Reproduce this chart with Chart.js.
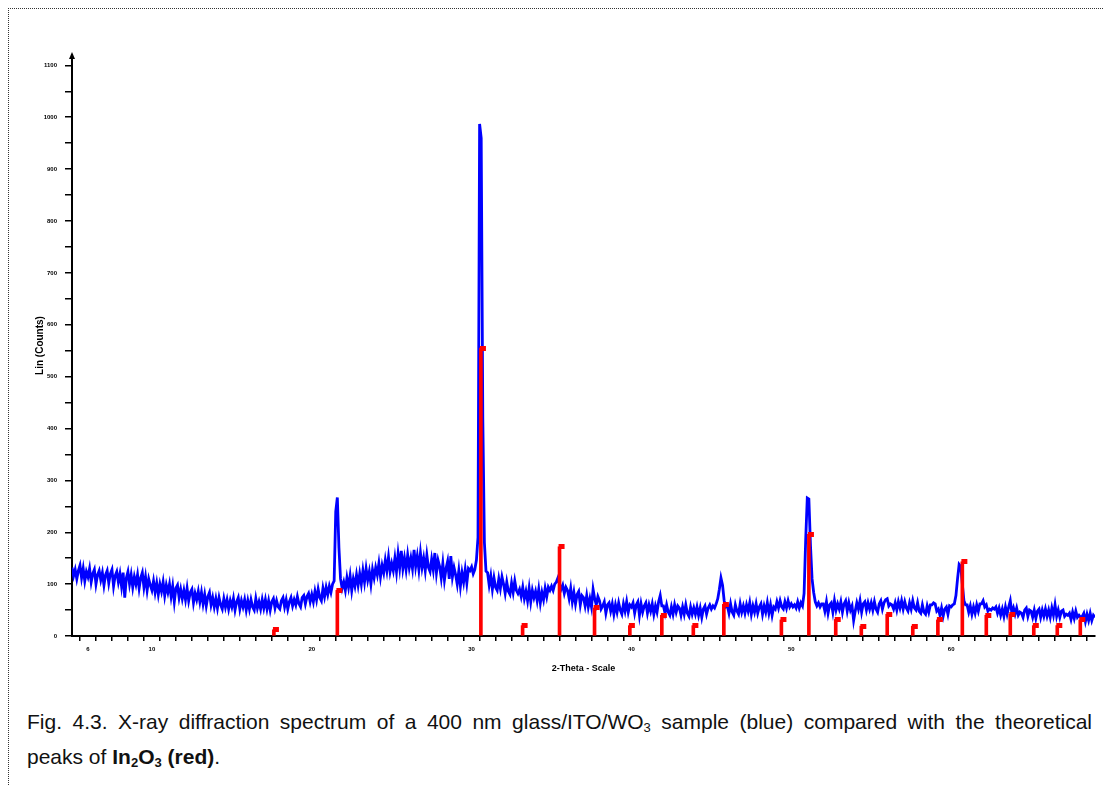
<!DOCTYPE html>
<html>
<head>
<meta charset="utf-8">
<script src="https://cdn.jsdelivr.net/npm/chart.js@4.4.1/dist/chart.umd.min.js"></script>
<style>
  html, body { margin: 0; padding: 0; background: #fff; }
  body { width: 1103px; height: 785px; position: relative; overflow: hidden; }
  #frame { position: absolute; left: 8px; top: 8px; right: 0; bottom: 0;
           border-top: 1px dotted #333; border-left: 1px dotted #333; }
  #xrd { position: absolute; left: 0; top: 0; }
  #caption { position: absolute; left: 27px; top: 704px; width: 1065px;
             font-family: "Liberation Sans Narrow", "Arial Narrow", "Liberation Sans", sans-serif;
             font-size: 21px; line-height: 35px; color: #111; }
  #caption .l1 { text-align: justify; text-align-last: justify; }
  #caption sub { font-size: 0.62em; vertical-align: -0.25em; line-height: 0; }
</style>
</head>
<body>
<div id="frame"></div>
<canvas id="xrd" width="1103" height="690"></canvas>
<div id="caption">
  <div class="l1">Fig. 4.3. X-ray diffraction spectrum of a 400 nm glass/ITO/WO<sub>3</sub> sample (blue) compared with the theoretical</div>
  <div>peaks of <b>In<sub>2</sub>O<sub>3</sub> (red)</b>.</div>
</div>
<script>
// measured scan (blue), 2-theta from 5 to 69 deg, 0.1 deg step
const scanStart = 5;
const scanStep = 0.1;
const scanCounts = [
  132,116,128,110,126,136,112,130,106,124,
  114,130,104,120,128,100,118,126,108,122,
  98,118,126,102,120,128,96,116,124,104,
  120,96,122,74,112,124,100,118,94,114,
  100,118,92,112,122,94,114,88,110,98,
  88,106,84,102,80,100,86,104,78,98,
  84,100,76,96,66,92,98,74,90,72,
  88,70,92,68,84,90,64,82,70,86,
  66,84,62,80,58,76,84,60,74,56,
  72,54,74,60,52,72,56,70,52,68,
  56,72,50,66,74,52,68,56,70,50,
  68,52,70,56,50,72,54,66,52,70,
  54,70,52,68,50,66,72,54,68,56,
  52,68,74,56,70,52,66,74,58,70,
  60,76,62,56,74,78,62,76,82,66,
  80,66,86,70,90,74,68,92,76,94,
  80,96,84,100,106,240,267,170,110,92,
  104,88,112,94,116,88,110,96,118,98,
  120,100,126,104,130,108,124,100,128,112,
  132,118,140,114,136,122,146,126,152,124,
  140,126,150,124,158,132,164,130,150,128,
  156,132,150,130,166,134,154,128,160,132,
  150,126,156,132,124,148,128,160,122,146,
  134,112,140,108,130,144,110,154,114,132,
  118,100,126,96,122,104,128,102,130,126,
  133,120,128,146,190,987,960,420,180,125,
  122,98,116,90,112,94,88,110,92,114,
  100,82,104,86,80,102,84,106,88,82,
  90,76,94,72,86,68,92,66,88,74,
  86,68,90,64,84,70,92,76,94,88,
  96,88,100,104,112,100,90,98,82,94,
  88,72,92,66,84,62,80,86,60,78,
  74,58,78,56,72,56,90,72,60,76,
  68,52,58,66,44,60,64,48,62,42,
  60,46,64,50,42,62,48,66,46,60,
  56,64,44,60,66,40,62,46,58,64,
  44,60,48,62,42,58,46,66,78,58,
  58,44,60,46,40,56,42,60,46,58,
  54,40,56,42,60,44,38,56,42,54,
  42,56,40,54,36,52,58,42,54,60,
  52,58,54,62,72,90,112,98,68,56,
  58,44,62,46,40,60,48,42,62,46,
  58,44,60,48,64,42,58,46,62,44,
  56,62,42,58,46,64,44,60,40,56,
  52,66,54,68,56,52,66,54,68,56,
  62,56,60,54,66,54,64,58,82,185,
  266,264,175,110,84,66,58,64,56,62,
  62,48,66,44,60,64,46,68,50,62,
  52,66,46,62,68,48,64,50,58,30,
  48,64,52,68,46,62,66,50,64,52,
  64,50,66,52,46,62,68,52,64,70,
  72,58,62,60,52,64,50,66,54,68,
  52,66,54,48,64,52,68,54,50,64,
  48,44,60,46,42,58,46,60,60,64,
  62,48,52,40,54,38,52,56,42,58,
  56,60,62,78,110,138,134,100,68,60,
  60,46,58,42,56,44,60,48,62,62,
  68,56,60,48,52,50,54,52,56,44,
  54,40,52,38,56,42,56,68,44,54,
  42,54,40,46,44,36,50,54,38,50,
  48,36,50,34,48,52,36,50,38,52,
  38,50,36,54,40,60,38,50,36,48,
  50,38,42,40,44,32,46,34,48,36,
  40,36,38,44,28,42,30,44,30,40,
  36
];

// In2O3 reference pattern (red)
const refTheta = [17.63, 21.6, 30.58, 33.19, 35.5, 37.69, 39.9, 41.9, 43.87, 45.78, 49.38,
  51.1, 52.78, 54.38, 56.0, 57.6, 59.17, 60.7, 62.2, 63.7, 65.17, 66.64, 68.08];
const refIntensity = [12, 88, 555, 20, 172, 54, 20, 40, 20, 61, 31,
  196, 32, 19, 42, 19, 31, 143, 40, 42, 20, 20, 31];

const xTickLabels = [6, 10, 20, 30, 40, 50, 60];
const yLabelStep = 100;

const scanPoints = scanCounts.map((c, i) => ({ x: +(scanStart + i * scanStep).toFixed(2), y: c }));
const refPoints = refTheta.map((t, i) => ({ x: t, y: refIntensity[i] }));

// little flag drawn at the top of every reference line, sitting to its right
const flag = document.createElement('canvas');
flag.width = 12;
flag.height = 5;
const fctx = flag.getContext('2d');
fctx.fillStyle = '#ff0000';
fctx.fillRect(5, 0, 6, 5);

const axisArrow = {
  id: 'axisArrow',
  afterDraw(chart) {
    const { ctx, chartArea } = chart;
    ctx.save();
    ctx.fillStyle = '#000';
    ctx.beginPath();
    ctx.moveTo(chartArea.left - 3, chartArea.top + 4);
    ctx.lineTo(chartArea.left + 3, chartArea.top + 4);
    ctx.lineTo(chartArea.left, chartArea.top - 3);
    ctx.closePath();
    ctx.fill();
    ctx.restore();
  },
};

const tickFont = { family: 'Liberation Sans', size: 6, weight: 'bold' };

new Chart(document.getElementById('xrd'), {
  type: 'line',
  data: {
    datasets: [
      {
        type: 'bar',
        data: refPoints,
        backgroundColor: '#ff0000',
        borderWidth: 0,
        barThickness: 3,
        order: 1,
      },
      {
        type: 'line',
        data: refPoints,
        showLine: false,
        pointStyle: flag,
        pointRadius: 3,
        order: 0,
      },
      {
        type: 'line',
        data: scanPoints,
        borderColor: '#0000ff',
        borderWidth: 2.8,
        pointRadius: 0,
        tension: 0,
        order: 2,
      },
    ],
  },
  options: {
    responsive: false,
    animation: false,
    devicePixelRatio: 1,
    layout: { padding: { top: 55, right: 8, left: 0, bottom: 0 } },
    plugins: { legend: { display: false }, tooltip: { enabled: false } },
    scales: {
      x: {
        type: 'linear',
        min: 5,
        max: 69,
        offset: false,
        afterFit: s => { s.height = 54; },
        afterBuildTicks: s => { s.ticks = s.ticks.filter(t => Number.isInteger(t.value)); },
        ticks: {
          stepSize: 1,
          autoSkip: false,
          maxRotation: 0,
          padding: 5,
          color: '#000',
          font: tickFont,
          callback: v => xTickLabels.includes(v) ? v : '',
        },
        grid: { drawOnChartArea: false, tickLength: 5, color: '#000', lineWidth: 1.5 },
        border: { color: '#000', width: 2 },
        title: {
          display: true,
          text: '2-Theta - Scale',
          color: '#000',
          font: { family: 'Liberation Sans', size: 9, weight: 'bold' },
          padding: { top: 0, bottom: 16 },
        },
      },
      y: {
        min: 0,
        max: 1120,
        afterFit: s => { s.width = 72; },
        afterBuildTicks: s => { s.ticks = s.ticks.filter(t => t.value % 50 === 0); },
        ticks: {
          stepSize: 50,
          autoSkip: false,
          padding: 8,
          color: '#000',
          font: tickFont,
          callback: v => v % yLabelStep === 0 ? v : '',
        },
        grid: { drawOnChartArea: false, tickLength: 7, color: '#000', lineWidth: 1.5 },
        border: { color: '#000', width: 2 },
        title: {
          display: true,
          text: 'Lin (Counts)',
          color: '#000',
          font: { family: 'Liberation Sans', size: 10, weight: 'bold' },
          padding: { top: 34, bottom: 0 },
        },
      },
    },
  },
  plugins: [axisArrow],
});
</script>
</body>
</html>
